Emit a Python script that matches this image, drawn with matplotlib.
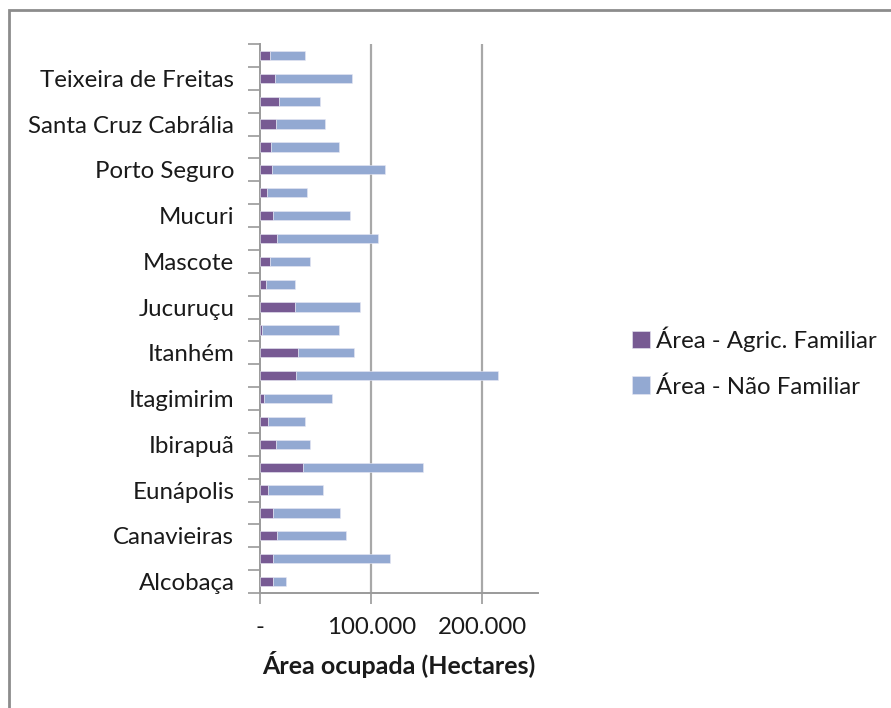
import matplotlib
matplotlib.use("Agg")
import matplotlib.pyplot as plt
from matplotlib.patches import Rectangle
from matplotlib.ticker import FuncFormatter, FixedLocator
import numpy as np

municipios = [
    "Alcobaça", "Belmonte", "Canavieiras", "Caravelas", "Eunápolis", "Guaratinga",
    "Ibirapuã", "Itabela", "Itagimirim", "Itamaraju", "Itanhém", "Itapebi",
    "Jucuruçu", "Lajedão", "Mascote", "Medeiros Neto", "Mucuri", "Nova Viçosa",
    "Porto Seguro", "Prado", "Santa Cruz Cabrália", "Santa Luzia",
    "Teixeira de Freitas", "Vereda",
]
area_familiar = [
    12000, 12000, 15600, 12000, 7500, 38600,
    14100, 7500, 3900, 32600, 33800, 1500,
    31400, 5100, 8700, 15600, 12000, 6000,
    10800, 9600, 14400, 16800,
    13200, 8700,
]
area_total = [
    23400, 116800, 77500, 71900, 56900, 146700,
    45200, 40700, 64700, 214400, 84400, 70700,
    90100, 31100, 45200, 106300, 80800, 41900,
    112000, 70700, 58100, 53600,
    82300, 40700,
]
area_nao_familiar = [t - f for t, f in zip(area_total, area_familiar)]

cor_familiar = "#775A93"
cor_nao_familiar = "#93A9D2"
cinza = "#9A9A9A"
texto = "#1a1a1a"
fs = 17.3

plt.rcParams["font.family"] = ["Lato", "DejaVu Sans"]

fig = plt.figure(figsize=(8.91, 7.08), dpi=100)
ax = fig.add_axes([260 / 891, 1 - 593 / 708, 278 / 891, 549 / 708])

y = np.arange(len(municipios))
ax.barh(y, area_familiar, height=0.4, color=cor_familiar,
        edgecolor="#E8E8F4", linewidth=0.4, label="Área - Agric. Familiar", zorder=3)
ax.barh(y, area_nao_familiar, left=area_familiar, height=0.4, color=cor_nao_familiar,
        edgecolor="#E8E8F4", linewidth=0.4, label="Área - Não Familiar", zorder=3)

ax.set_xlim(0, 250000)
ax.set_ylim(-0.5, len(municipios) - 0.5)

# x axis: grid at 100k steps, accounting style "-" for zero
ax.xaxis.set_major_locator(FixedLocator([0, 100000, 200000]))
ax.xaxis.set_major_formatter(FuncFormatter(
    lambda v, p: "-" if v == 0 else f"{int(v):,}".replace(",", ".")))
ax.tick_params(axis="x", which="major", direction="out", length=8, width=1.2,
               color=cinza, labelsize=fs, labelcolor=texto, pad=9)
for xv in (100000, 200000):
    ax.axvline(xv, color="#A8A8A8", linewidth=1.6, zorder=1)

# y axis: labels on every other category, tick marks at category boundaries
ax.set_yticks(y[::2])
ax.set_yticklabels(municipios[::2])
ax.set_yticks(np.arange(-0.5, len(municipios)), minor=True)
ax.tick_params(axis="y", which="major", length=0, labelsize=fs,
               labelcolor=texto, pad=18.5)
ax.tick_params(axis="y", which="minor", direction="out", length=9, width=1.2, color=cinza)

for side in ("top", "right"):
    ax.spines[side].set_visible(False)
for side in ("left", "bottom"):
    ax.spines[side].set_color(cinza)
    ax.spines[side].set_linewidth(1.4)

ax.set_xlabel("Área ocupada (Hectares)", fontsize=18, fontweight="bold",
              color=texto, labelpad=10)

leg = fig.legend(loc="center left", bbox_to_anchor=(620 / 891, 1 - 362 / 708),
                 frameon=False, fontsize=fs, handlelength=0.75, handleheight=0.75,
                 handletextpad=0.25, labelspacing=1.0, borderpad=0)
for t in leg.get_texts():
    t.set_color(texto)

# chart-area border
fig.patches.append(Rectangle((8.5 / 891, -0.1), 1.2, 1.1 - 10.5 / 708,
                             transform=fig.transFigure, fill=False,
                             edgecolor="#8C8C8C", linewidth=2.0, zorder=10))

fig.savefig("out.png", dpi=100)
